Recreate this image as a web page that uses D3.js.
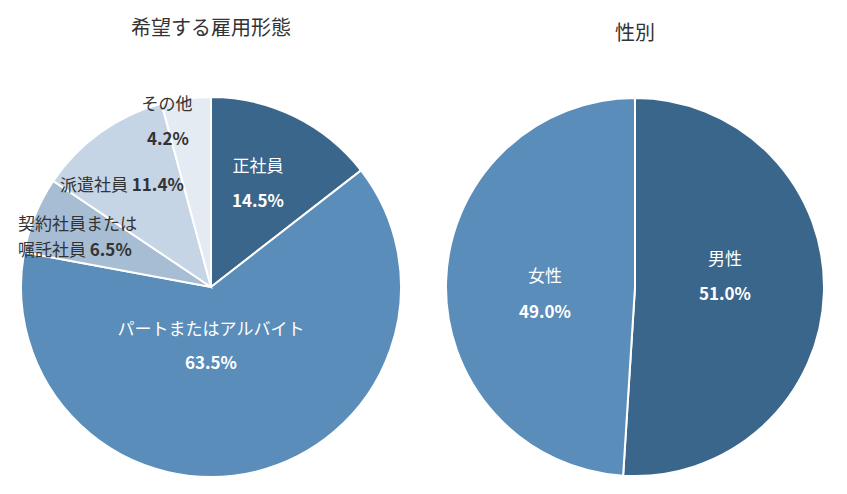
<!DOCTYPE html><html><head><meta charset="utf-8"><script src="https://cdn.jsdelivr.net/npm/d3@7"></script>
<style>body{margin:0;background:#fff}text{font-family:"Noto Sans CJK JP",sans-serif}</style></head><body><svg width="847" height="494"></svg>
<script>
const empCats=["正社員","パートまたはアルバイト","契約社員または嘱託社員","派遣社員","その他"];
const empVals=[14.5,63.5,6.5,11.4,4.2];
const empColors=["#3b668c","#5a8db9","#a7bdd4","#c6d5e5","#e4ebf3"];
const sexCats=["男性","女性"];
const sexVals=[51.0,49.0];
const sexColors=["#3b668c","#5a8db9"];
const svg=d3.select("svg");
function pie(cx,cy,r,vals,colors){
  const arcs=d3.pie().sort(null)(vals);
  const g=svg.append("g").attr("transform",`translate(${cx},${cy})`);
  g.selectAll("path").data(arcs).join("path").attr("d",d3.arc().innerRadius(0).outerRadius(r))
   .attr("fill",(d,i)=>colors[i]).attr("stroke","#fff").attr("stroke-width",2);
  return g;
}
function txt(x,y,s,opt={}){svg.append("text").attr("x",x).attr("y",y).attr("text-anchor",opt.anchor||"middle")
  .attr("font-size",opt.size||17).attr("font-weight",opt.bold?"bold":"normal").attr("fill",opt.fill||"#333").text(s);}
pie(211,287,190,empVals,empColors);
pie(635,287,189,sexVals,sexColors);
txt(211,35,"希望する雇用形態",{size:20});
txt(635,40,"性別",{size:20});
const W="#fff";
txt(258,172,empCats[0],{fill:W});txt(258,207,empVals[0].toFixed(1)+"%",{fill:W,bold:true});
txt(211,335,empCats[1],{fill:W});txt(211,369,empVals[1].toFixed(1)+"%",{fill:W,bold:true});
txt(18,230,"契約社員または",{anchor:"start"});
svg.append("text").attr("x",18).attr("y",256).attr("font-size",17).attr("fill","#333")
  .text("嘱託社員 ").append("tspan").attr("font-weight","bold").text(empVals[2].toFixed(1)+"%");
svg.append("text").attr("x",60).attr("y",191).attr("font-size",17).attr("fill","#333")
  .text(empCats[3]+" ").append("tspan").attr("font-weight","bold").text(empVals[3].toFixed(1)+"%");
txt(167,110,empCats[4]);txt(168,145,empVals[4].toFixed(1)+"%",{bold:true});
txt(725,265,sexCats[0],{fill:W});txt(725,300,sexVals[0].toFixed(1)+"%",{fill:W,bold:true});
txt(545,282,sexCats[1],{fill:W});txt(545,318,sexVals[1].toFixed(1)+"%",{fill:W,bold:true});
</script></body></html>
